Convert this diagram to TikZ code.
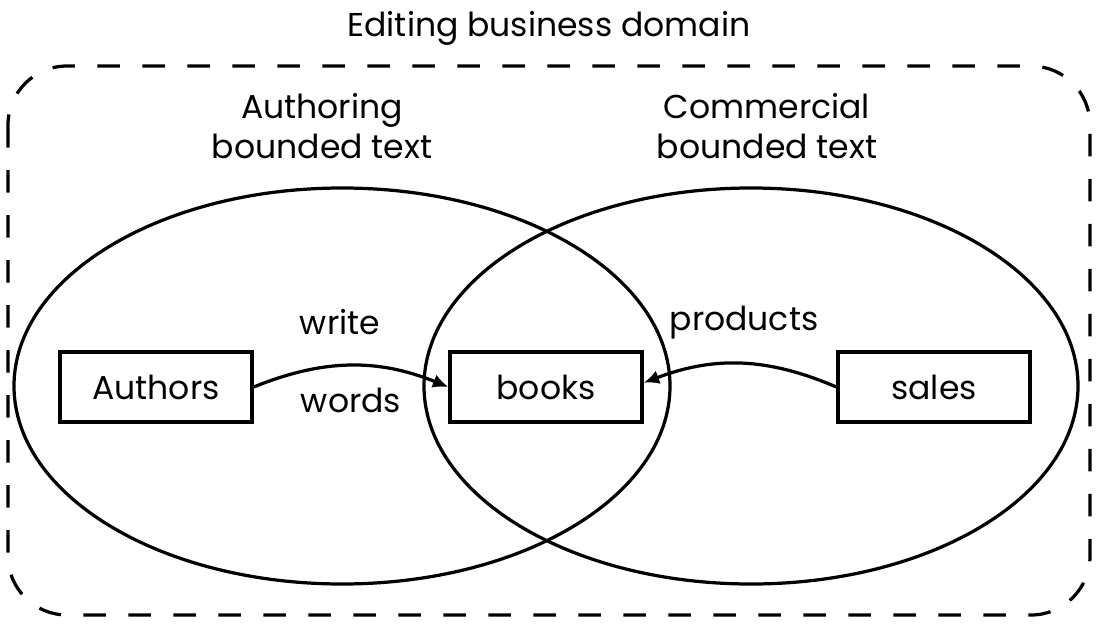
\documentclass[tikz,border=0pt]{standalone}
\usepackage{fontspec}
\setmainfont{Poppins}
\usetikzlibrary{arrows.meta}

\begin{document}
\begin{tikzpicture}[x=0.025cm,y=-0.025cm,line width=2.3pt,font=\fontsize{23.5}{28}\selectfont]

      \useasboundingbox (0,0) rectangle (1098,624);

      \node (title) at (549,28) {Editing business domain};

      \draw[dash pattern=on 16pt off 16pt,rounded corners=42pt]
        (8,66) rectangle (1090,615);

      \draw (342,386) ellipse [x radius=328,y radius=198];
      \draw (751,386) ellipse [x radius=327,y radius=198];

      \begin{scope}[every node/.style={align=center}]
        \node (authoring)  at (322,126) {Authoring\\bounded text};
        \node (commercial) at (767,126) {Commercial\\bounded text};
      \end{scope}

      \begin{scope}[every node/.style={draw,minimum width=136.6pt,
          minimum height=49.8pt,inner sep=0pt}]
        \node (authors) at (156,387) {Authors};
        \node (books)   at (546,387) {books};
        \node (sales)   at (934,387) {sales};
      \end{scope}

      \begin{scope}[every edge/.style={draw,-{Latex[length=11pt,width=10pt]}}]
        \path (authors.east) edge[bend left=22] (books.west);
        \path (sales.west) edge[bend right=22] ([yshift=3pt]books.east);
      \end{scope}

      \node (write)    at (340,322) {write};
      \node (words)    at (351,400) {words};
      \node (products) at (744,323) {products};

    \end{tikzpicture}
\end{document}
